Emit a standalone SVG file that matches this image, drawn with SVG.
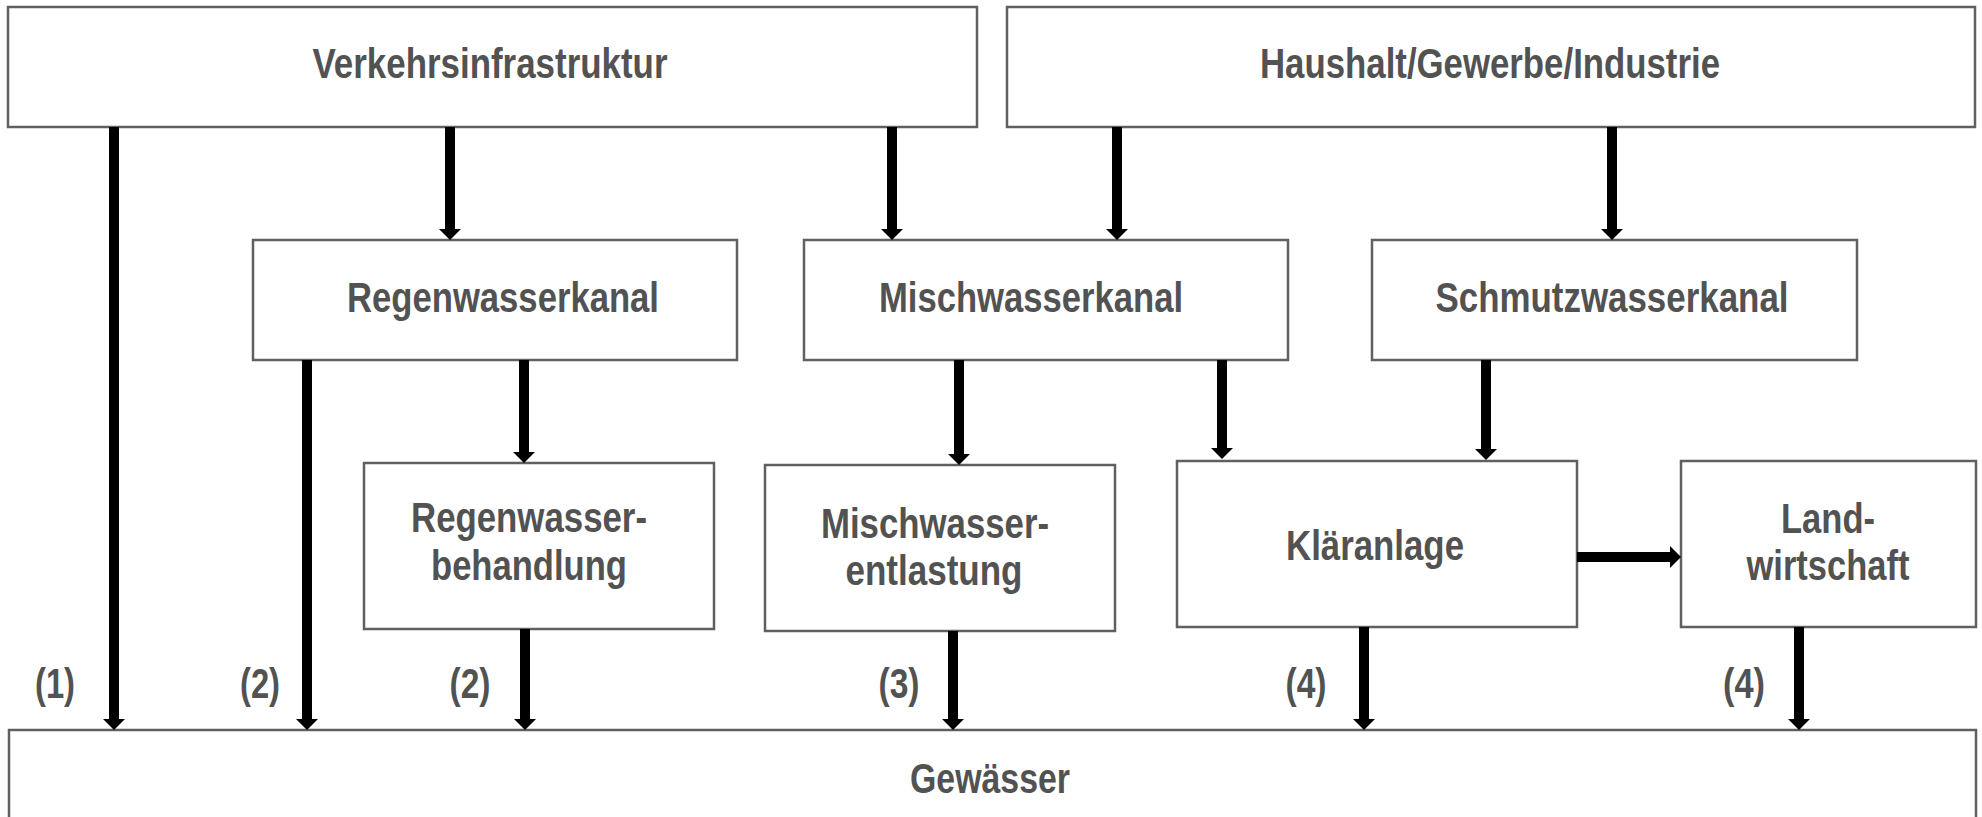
<svg xmlns="http://www.w3.org/2000/svg" width="1982" height="817" viewBox="0 0 1982 817">
<style>
.box{fill:#ffffff;stroke:#606060;stroke-width:2.5}
.lbl{font-family:"Liberation Sans",Arial,sans-serif;font-weight:bold;font-size:42px;fill:#525252;text-anchor:middle}
.con{stroke:#000000;stroke-width:10;fill:none;marker-end:url(#ah)}
</style>
<defs>
<marker id="ah" markerUnits="userSpaceOnUse" markerWidth="11" markerHeight="22" viewBox="0 0 11 22" refX="0" refY="11" orient="auto">
<path d="M0,0 L11,11 L0,22 z" fill="#000000"/>
</marker>
</defs>
<rect width="1982" height="817" fill="#ffffff"/>
<g id="gewaesser">
<rect class="box" x="9" y="730" width="1967" height="110"/>
<text class="lbl" x="990" y="793" textLength="160" lengthAdjust="spacingAndGlyphs">Gewässer</text>
</g>
<g id="verkehrsinfrastruktur">
<rect class="box" x="8" y="7" width="969" height="120"/>
<text class="lbl" x="490" y="78" textLength="355" lengthAdjust="spacingAndGlyphs">Verkehrsinfrastruktur</text>
</g>
<g id="haushalt">
<rect class="box" x="1007" y="7" width="968" height="120"/>
<text class="lbl" x="1490" y="78" textLength="460" lengthAdjust="spacingAndGlyphs">Haushalt/Gewerbe/Industrie</text>
</g>
<g id="regenwasserkanal">
<rect class="box" x="253" y="240" width="484" height="120"/>
<text class="lbl" x="503" y="312" textLength="312" lengthAdjust="spacingAndGlyphs">Regenwasserkanal</text>
</g>
<g id="mischwasserkanal">
<rect class="box" x="804" y="240" width="484" height="120"/>
<text class="lbl" x="1031" y="312" textLength="304" lengthAdjust="spacingAndGlyphs">Mischwasserkanal</text>
</g>
<g id="schmutzwasserkanal">
<rect class="box" x="1372" y="240" width="485" height="120"/>
<text class="lbl" x="1612" y="312" textLength="353" lengthAdjust="spacingAndGlyphs">Schmutzwasserkanal</text>
</g>
<g id="regenwasserbehandlung">
<rect class="box" x="364" y="463" width="350" height="166"/>
<text class="lbl" x="529" y="532" textLength="236" lengthAdjust="spacingAndGlyphs">Regenwasser-</text>
<text class="lbl" x="529" y="580" textLength="196" lengthAdjust="spacingAndGlyphs">behandlung</text>
</g>
<g id="mischwasserentlastung">
<rect class="box" x="765" y="465" width="350" height="166"/>
<text class="lbl" x="935" y="538" textLength="228" lengthAdjust="spacingAndGlyphs">Mischwasser-</text>
<text class="lbl" x="934" y="585" textLength="177" lengthAdjust="spacingAndGlyphs">entlastung</text>
</g>
<g id="klaeranlage">
<rect class="box" x="1177" y="461" width="400" height="166"/>
<text class="lbl" x="1375" y="560" textLength="178" lengthAdjust="spacingAndGlyphs">Kläranlage</text>
</g>
<g id="landwirtschaft">
<rect class="box" x="1681" y="461" width="295" height="166"/>
<text class="lbl" x="1828" y="533" textLength="94" lengthAdjust="spacingAndGlyphs">Land-</text>
<text class="lbl" x="1828" y="580" textLength="163" lengthAdjust="spacingAndGlyphs">wirtschaft</text>
</g>
<g id="connectors">
<line class="con" x1="114" y1="127" x2="114" y2="719"/>
<line class="con" x1="450" y1="127" x2="450" y2="229"/>
<line class="con" x1="892" y1="127" x2="892" y2="229"/>
<line class="con" x1="1117" y1="127" x2="1117" y2="229"/>
<line class="con" x1="1612" y1="127" x2="1612" y2="229"/>
<line class="con" x1="307" y1="360" x2="307" y2="719"/>
<line class="con" x1="524" y1="360" x2="524" y2="452"/>
<line class="con" x1="959" y1="360" x2="959" y2="454"/>
<line class="con" x1="1222" y1="360" x2="1222" y2="448"/>
<line class="con" x1="1486" y1="360" x2="1486" y2="449"/>
<line class="con" x1="525" y1="629" x2="525" y2="719"/>
<line class="con" x1="953" y1="631" x2="953" y2="719"/>
<line class="con" x1="1364" y1="627" x2="1364" y2="719"/>
<line class="con" x1="1799" y1="627" x2="1799" y2="719"/>
<line class="con" x1="1577" y1="557" x2="1670" y2="557"/>
</g>
<g id="labels">
<text class="lbl" x="55" y="698" textLength="40" lengthAdjust="spacingAndGlyphs">(1)</text>
<text class="lbl" x="260" y="698" textLength="40" lengthAdjust="spacingAndGlyphs">(2)</text>
<text class="lbl" x="470" y="698" textLength="41" lengthAdjust="spacingAndGlyphs">(2)</text>
<text class="lbl" x="899" y="698" textLength="41" lengthAdjust="spacingAndGlyphs">(3)</text>
<text class="lbl" x="1306" y="698" textLength="41" lengthAdjust="spacingAndGlyphs">(4)</text>
<text class="lbl" x="1744" y="698" textLength="42" lengthAdjust="spacingAndGlyphs">(4)</text>
</g>
</svg>
